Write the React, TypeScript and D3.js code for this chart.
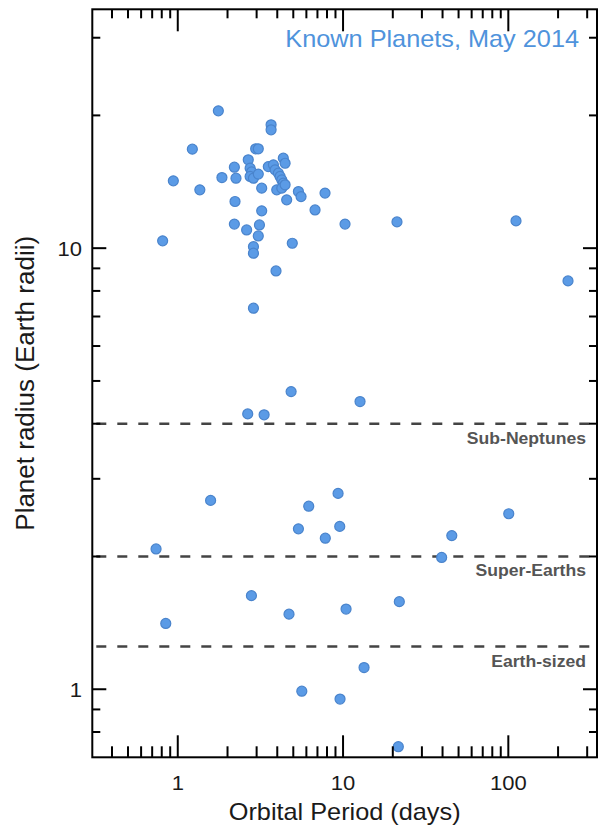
import React from 'react';
import * as d3 from 'd3';

// orbital period (days) and planet radius (Earth radii)
const periods = [
  1.76, 3.67, 3.67, 1.225, 2.96, 3.07, 2.67, 2.2, 2.74, 2.8, 2.74, 2.87, 2.25, 1.85, 3.07,
  3.22, 3.53, 3.79, 3.88, 4.06, 4.16, 4.26, 4.35, 4.35, 4.46, 3.97, 4.26, 4.46, 4.56, 5.37,
  5.57, 7.78, 0.94, 1.36, 2.22, 3.22, 6.77, 10.28, 2.2, 2.61, 3.12, 3.07, 0.81, 4.93, 2.87,
  2.87, 3.93, 2.87, 111.3, 229.7, 21.2,
  4.85, 2.65, 3.33, 12.67, 1.58, 9.33, 6.2, 100.6, 5.37, 9.55, 7.81, 45.5, 0.739, 39.5,
  2.79, 21.9, 4.71, 10.43, 0.846, 13.4, 5.63, 9.59, 21.6,
];
const radii = [
  20.48, 19.04, 18.55, 16.77, 16.8, 16.8, 15.86, 15.26, 15.18, 14.89, 14.54, 14.41, 14.41, 14.46, 14.72,
  13.68, 15.31, 15.45, 15.05, 14.79, 14.54, 14.28, 14.04, 16.0, 15.58, 13.56, 13.68, 13.92, 12.87, 13.44,
  13.09, 13.33, 14.21, 13.56, 12.76, 12.15, 12.21, 11.34, 11.34, 11.0, 11.29, 10.66, 10.39, 10.26, 10.08,
  9.74, 8.88, 7.31, 11.53, 8.43, 11.47,
  4.73, 4.21, 4.19, 4.49, 2.68, 2.78, 2.6, 2.5, 2.31, 2.34, 2.2, 2.23, 2.08, 1.99,
  1.63, 1.58, 1.48, 1.52, 1.41, 1.12, 0.99, 0.95, 0.741,
];

const sizeBounds = [4, 2, 1.25];
const sizeNames = ['Sub-Neptunes', 'Super-Earths', 'Earth-sized'];

const xMajor = [1, 10, 100];
const xMajorLabels = ['1', '10', '100'];
const yMajor = [1, 10];
const yMajorLabels = ['1', '10'];

const FONT = '"Liberation Sans", Arial, Helvetica, sans-serif';
const BLUE = '#4f93dc';

const App = () => {
  const x = d3.scaleLog().domain([0.304, 344]).range([92.3, 597]);
  const y = d3.scaleLog().domain([0.701, 34.8]).range([757.3, 9.3]);
  const [x0, x1] = x.range();
  const [y0, y1] = y.range();

  const xMinor = x.ticks().filter(v => !xMajor.includes(v));
  const yMinor = y.ticks().filter(v => !yMajor.includes(v));

  const pts = periods.map((p, i) => ({ p, r: radii[i] }));
  const stretch = (tx: number, ty: number) => `translate(${tx},${ty}) scale(1.1,1)`;

  return (
    <div style={{ position: 'absolute', left: 0, top: 0 }}>
      <svg width={598} height={826} style={{ display: 'block', background: '#fff' }}>
        {/* size class boundaries */}
        {sizeBounds.map((b, i) => (
          <g key={b}>
            <line x1={x0} x2={x1} y1={y(b)} y2={y(b)} stroke="#444" strokeWidth={2.5}
              strokeDasharray="10,11" strokeDashoffset={-4} />
            <text transform={stretch(586, y(b) + 20)} textAnchor="end" fontFamily={FONT}
              fontSize={16} fontWeight="bold" fill="#555">{sizeNames[i]}</text>
          </g>
        ))}

        {/* planets */}
        {pts.map((d, i) => (
          <circle key={i} cx={x(d.p)} cy={y(d.r)} r={5} fill="#5b9be6" stroke="#4a84cc" strokeWidth={1.2} />
        ))}

        {/* ticks, bottom and top */}
        {xMinor.map(v => (
          <g key={'xm' + v} stroke="#000" strokeWidth={2}>
            <line x1={x(v)} x2={x(v)} y1={y0} y2={y0 - 11} />
            <line x1={x(v)} x2={x(v)} y1={y1} y2={y1 + 9} />
          </g>
        ))}
        {xMajor.map(v => (
          <g key={'xM' + v} stroke="#000" strokeWidth={2}>
            <line x1={x(v)} x2={x(v)} y1={y0} y2={y0 - 22} />
            <line x1={x(v)} x2={x(v)} y1={y1} y2={y1 + 22} />
          </g>
        ))}
        {/* ticks, left and right */}
        {yMinor.map(v => (
          <g key={'ym' + v} stroke="#000" strokeWidth={2}>
            <line x1={x0} x2={x0 + 8} y1={y(v)} y2={y(v)} />
            <line x1={x1} x2={x1 - 8} y1={y(v)} y2={y(v)} />
          </g>
        ))}
        {yMajor.map(v => (
          <g key={'yM' + v} stroke="#000" strokeWidth={2}>
            <line x1={x0} x2={x0 + 14} y1={y(v)} y2={y(v)} />
            <line x1={x1} x2={x1 - 14} y1={y(v)} y2={y(v)} />
          </g>
        ))}

        {/* frame */}
        <rect x={x0} y={y1} width={x1 - x0} height={y0 - y1} fill="none" stroke="#000" strokeWidth={2} />

        {/* tick labels */}
        {xMajor.map((v, i) => (
          <text key={'xl' + v} transform={stretch(x(v), 790)} textAnchor="middle" fontFamily={FONT}
            fontSize={20} fill="#1a1a1a">{xMajorLabels[i]}</text>
        ))}
        {yMajor.map((v, i) => (
          <text key={'yl' + v} transform={stretch(82, y(v) + 7.5)} textAnchor="end" fontFamily={FONT}
            fontSize={20} fill="#1a1a1a">{yMajorLabels[i]}</text>
        ))}

        {/* axis titles */}
        <text transform={stretch((x0 + x1) / 2, 820)} textAnchor="middle" fontFamily={FONT}
          fontSize={23} fill="#1a1a1a">Orbital Period (days)</text>
        <text transform={`translate(34,${(y0 + y1) / 2}) rotate(-90)`} textAnchor="middle" fontFamily={FONT}
          fontSize={26} fill="#1a1a1a">Planet radius (Earth radii)</text>

        <text transform={stretch(579, 47)} textAnchor="end" fontFamily={FONT} fontSize={23} fill={BLUE}>
          Known Planets, May 2014
        </text>
      </svg>
    </div>
  );
};

export default App;
